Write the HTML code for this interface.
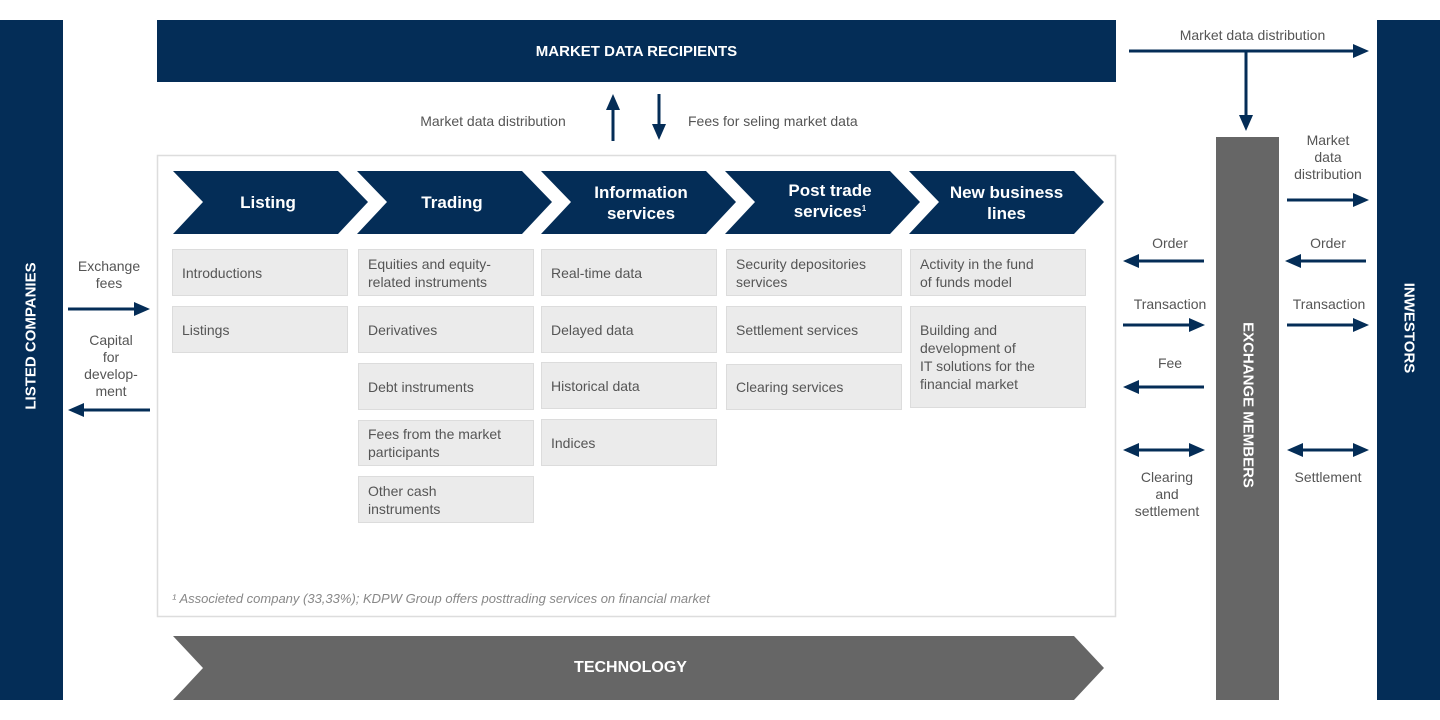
<!DOCTYPE html>
<html><head><meta charset="utf-8"><style>
body{margin:0;width:1440px;height:720px;position:relative;background:#fff;font-family:"Liberation Sans",sans-serif;overflow:hidden}
.a{position:absolute}
.box{position:absolute;background:#ebebeb;border:1px solid #dcdcdc;box-sizing:border-box;color:#555;font-size:14px;line-height:18px;padding:0 9px;display:flex;align-items:center}
.lbl{position:absolute;color:#555;font-size:14px;line-height:17px;text-align:center}
.cv{position:absolute;color:#fff;font-size:17px;font-weight:bold;line-height:21px;text-align:center;display:flex;align-items:center;justify-content:center;height:63px;top:171px}
.vt{position:absolute;color:#fff;font-weight:bold;font-size:15px;white-space:nowrap}
</style></head><body>
<svg class="a" style="left:0;top:0" width="1440" height="720">
<rect x="0" y="20" width="63" height="680" fill="#042d57"/>
<rect x="1377" y="20" width="63" height="680" fill="#042d57"/>
<rect x="157" y="20" width="959" height="62" fill="#042d57"/>
<rect x="1216" y="137" width="63" height="563" fill="#666"/>
<rect x="157.5" y="155.5" width="958" height="461" fill="none" stroke="#ddd" stroke-width="1.5"/>
<g fill="#042d57">
<polygon points="173,171 338,171 368,202 338,234 173,234 203,202"/>
<polygon points="357,171 522,171 552,202 522,234 357,234 387,202"/>
<polygon points="541,171 706,171 736,202 706,234 541,234 571,202"/>
<polygon points="725,171 890,171 920,202 890,234 725,234 755,202"/>
<polygon points="909,171 1074,171 1104,202 1074,234 909,234 939,202"/>
</g>
<polygon points="173,636 1074,636 1104,668 1074,700 173,700 203,668" fill="#666"/>
<g stroke="#042d57" stroke-width="3" fill="none">
<line x1="613" y1="141" x2="613" y2="108"/>
<line x1="659" y1="94" x2="659" y2="126"/>
<line x1="1129" y1="51" x2="1355" y2="51"/>
<line x1="1246" y1="51" x2="1246" y2="117"/>
<line x1="1287" y1="200" x2="1355" y2="200"/>
<line x1="1204" y1="261" x2="1138" y2="261"/>
<line x1="1366" y1="261" x2="1300" y2="261"/>
<line x1="1123" y1="325" x2="1191" y2="325"/>
<line x1="1287" y1="325" x2="1355" y2="325"/>
<line x1="1204" y1="387" x2="1138" y2="387"/>
<line x1="1138" y1="450" x2="1191" y2="450"/>
<line x1="1302" y1="450" x2="1355" y2="450"/>
<line x1="68" y1="309" x2="136" y2="309"/>
<line x1="150" y1="410" x2="82" y2="410"/>
</g>
<g fill="#042d57">
<polygon points="613,94 606,110 620,110"/>
<polygon points="659,140 652,124 666,124"/>
<polygon points="1369,51 1353,44 1353,58"/>
<polygon points="1246,131 1239,115 1253,115"/>
<polygon points="1369,200 1353,193 1353,207"/>
<polygon points="1123,261 1139,254 1139,268"/>
<polygon points="1285,261 1301,254 1301,268"/>
<polygon points="1205,325 1189,318 1189,332"/>
<polygon points="1369,325 1353,318 1353,332"/>
<polygon points="1123,387 1139,380 1139,394"/>
<polygon points="1123,450 1139,443 1139,457"/>
<polygon points="1205,450 1189,443 1189,457"/>
<polygon points="1287,450 1303,443 1303,457"/>
<polygon points="1369,450 1353,443 1353,457"/>
<polygon points="150,309 134,302 134,316"/>
<polygon points="68,410 84,403 84,417"/>
</g>
</svg>
<div class="a" style="left:157px;top:20px;width:959px;height:62px;color:#fff;font-weight:bold;font-size:15px;display:flex;align-items:center;justify-content:center">MARKET DATA RECIPIENTS</div>
<div class="a" style="left:165px;top:636px;width:931px;height:64px;color:#fff;font-weight:bold;font-size:16px;display:flex;align-items:center;justify-content:center">TECHNOLOGY</div>
<div class="vt" style="left:31px;top:336px;transform:translate(-50%,-50%) rotate(-90deg)">LISTED COMPANIES</div>
<div class="vt" style="left:1409px;top:328px;transform:translate(-50%,-50%) rotate(90deg)">INWESTORS</div>
<div class="vt" style="left:1248px;top:405px;transform:translate(-50%,-50%) rotate(90deg)">EXCHANGE MEMBERS</div>
<div class="cv" style="left:203px;width:130px"><div>Listing</div></div>
<div class="cv" style="left:387px;width:130px"><div>Trading</div></div>
<div class="cv" style="left:571px;width:140px"><div>Information<br>services</div></div>
<div class="cv" style="left:755px;width:150px"><div>Post trade<br>services<span style="font-size:8px;position:relative;top:-6px">1</span></div></div>
<div class="cv" style="left:939px;width:135px"><div>New business<br>lines</div></div>
<div class="box" style="left:172px;top:249px;width:176px;height:47px">Introductions</div>
<div class="box" style="left:172px;top:306px;width:176px;height:47px">Listings</div>
<div class="box" style="left:358px;top:249px;width:176px;height:47px">Equities and equity-<br>related instruments</div>
<div class="box" style="left:358px;top:306px;width:176px;height:47px">Derivatives</div>
<div class="box" style="left:358px;top:363px;width:176px;height:47px">Debt instruments</div>
<div class="box" style="left:358px;top:420px;width:176px;height:46px">Fees from the market<br>participants</div>
<div class="box" style="left:358px;top:476px;width:176px;height:47px">Other cash<br>instruments</div>
<div class="box" style="left:541px;top:249px;width:176px;height:47px">Real-time data</div>
<div class="box" style="left:541px;top:306px;width:176px;height:47px">Delayed data</div>
<div class="box" style="left:541px;top:362px;width:176px;height:47px">Historical data</div>
<div class="box" style="left:541px;top:419px;width:176px;height:47px">Indices</div>
<div class="box" style="left:726px;top:249px;width:176px;height:47px">Security depositories<br>services</div>
<div class="box" style="left:726px;top:306px;width:176px;height:47px">Settlement services</div>
<div class="box" style="left:726px;top:364px;width:176px;height:46px">Clearing services</div>
<div class="box" style="left:910px;top:249px;width:176px;height:47px">Activity in the fund<br>of funds model</div>
<div class="box" style="left:910px;top:306px;width:176px;height:102px">Building and<br>development of<br>IT solutions for the<br>financial market</div>
<div class="a" style="left:172px;top:591px;font-size:13px;font-style:italic;color:#888">¹ Associeted company (33,33%); KDPW Group offers posttrading services on financial market</div>
<div class="lbl" style="left:400px;top:113px;width:186px">Market data distribution</div>
<div class="lbl" style="left:688px;top:113px;text-align:left">Fees for seling market data</div>
<div class="lbl" style="left:1130px;top:27px;width:245px">Market data distribution</div>
<div class="lbl" style="left:1283px;top:132px;width:90px">Market<br>data<br>distribution</div>
<div class="lbl" style="left:1125px;top:235px;width:90px">Order</div>
<div class="lbl" style="left:1283px;top:235px;width:90px">Order</div>
<div class="lbl" style="left:1122px;top:296px;width:96px">Transaction</div>
<div class="lbl" style="left:1281px;top:296px;width:96px">Transaction</div>
<div class="lbl" style="left:1125px;top:355px;width:90px">Fee</div>
<div class="lbl" style="left:1122px;top:469px;width:90px">Clearing<br>and<br>settlement</div>
<div class="lbl" style="left:1283px;top:469px;width:90px">Settlement</div>
<div class="lbl" style="left:66px;top:258px;width:86px">Exchange<br>fees</div>
<div class="lbl" style="left:66px;top:332px;width:90px">Capital<br>for<br>develop-<br>ment</div>
</body></html>
